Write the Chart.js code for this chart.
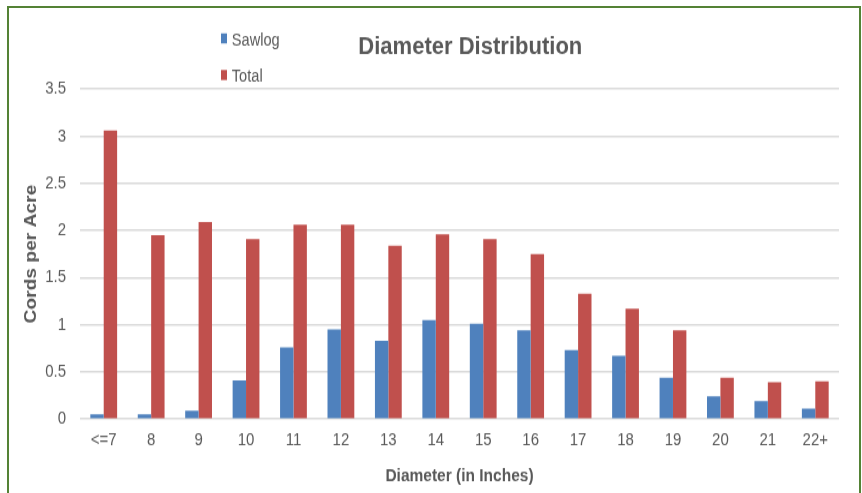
<!DOCTYPE html>
<html>
<head>
<meta charset="utf-8">
<script src="https://cdn.jsdelivr.net/npm/chart.js@4/dist/chart.umd.min.js"></script>
<style>
  html, body { margin: 0; padding: 0; background: #ffffff; overflow: hidden; }
  #page { position: relative; width: 862px; height: 493px; overflow: hidden; }
  /* the chart is laid out at 862x411 and drawn 1.2x taller, which gives the tall, narrow lettering */
  #wrap { position: absolute; left: 0; top: 0; width: 862px; height: 411px; transform: scaleY(1.2); transform-origin: 0 0; }
  #frame { position: absolute; left: 7px; top: 6px; width: 850px; height: 520px; border: 2px solid #548235; box-sizing: content-box; }
</style>
</head>
<body>
<div id="page">
  <div id="wrap"><canvas id="c" width="862" height="411"></canvas></div>
  <div id="frame"></div>
</div>
<script>
// Diameter classes and cords per acre for each product
const categories = ['<=7', '8', '9', '10', '11', '12', '13', '14', '15', '16', '17', '18', '19', '20', '21', '22+'];
const sawlog = [0.05, 0.05, 0.09, 0.41, 0.76, 0.95, 0.83, 1.05, 1.01, 0.94, 0.73, 0.67, 0.44, 0.24, 0.19, 0.11];
const total  = [3.06, 1.95, 2.09, 1.91, 2.06, 2.06, 1.84, 1.96, 1.91, 1.75, 1.33, 1.17, 0.94, 0.44, 0.39, 0.40];
const yTicks = [0, 0.5, 1, 1.5, 2, 2.5, 3, 3.5];

const chartTitle = 'Diameter Distribution';
const yTitle = 'Cords per Acre';
const xTitle = 'Diameter (in Inches)';

const FONT = "'Liberation Sans', Arial, sans-serif";
const TEXT = '#595959';
const BLUE = '#4f81bd';
const RED = '#c0504d';

// draw a line of text scaled to a given width and cap height
function fittedText(ctx, text, font, size, x, baseline, align, width, capHeight) {
  ctx.save();
  ctx.font = font;
  const w = ctx.measureText(text).width;
  const sx = width ? width / w : 1;
  const sy = capHeight / (0.716 * size);
  ctx.translate(x, baseline);
  ctx.scale(sx, sy);
  ctx.textAlign = align;
  ctx.textBaseline = 'alphabetic';
  ctx.fillText(text, 0, 0);
  ctx.restore();
}

// chart title and a stacked legend in the upper left
const decorations = {
  id: 'decorations',
  afterDraw(chart) {
    const ctx = chart.ctx;
    ctx.save();
    ctx.fillStyle = TEXT;
    fittedText(ctx, chartTitle, 'bold 22px ' + FONT, 22, 470.3, 45, 'center', 224, 14.4);

    const baselines = [38.3, 68.1];
    const boxes = [27.8, 58.3];
    chart.data.datasets.forEach((ds, i) => {
      ctx.fillStyle = ds.backgroundColor;
      ctx.fillRect(221, boxes[i], 6, 8.4);
      ctx.fillStyle = TEXT;
      fittedText(ctx, ds.label, '14.6px ' + FONT, 14.6, 231.8, baselines[i], 'left', 0, 11.1);
    });
    ctx.restore();
  }
};

new Chart(document.getElementById('c'), {
  type: 'bar',
  data: {
    labels: categories,
    datasets: [
      { label: 'Sawlog', data: sawlog, backgroundColor: BLUE },
      { label: 'Total', data: total, backgroundColor: RED }
    ]
  },
  options: {
    responsive: false,
    animation: false,
    devicePixelRatio: 1,
    layout: { padding: { left: 0, right: 23, top: 74.2, bottom: 0 } },
    datasets: { bar: { categoryPercentage: 0.565, barPercentage: 1.0 } },
    plugins: {
      legend: { display: false },
      title: { display: false },
      tooltip: { enabled: false }
    },
    scales: {
      x: {
        grid: { display: false, drawTicks: false },
        border: { display: false },
        ticks: { color: TEXT, font: { family: FONT, size: 15 }, padding: 8.5, maxRotation: 0 },
        title: { display: true, text: xTitle, color: TEXT, font: { family: FONT, size: 15.5, weight: 'bold' }, padding: { top: 0, bottom: 5 } },
        afterFit(scale) { scale.height = 61.8; }
      },
      y: {
        min: 0,
        max: 3.5,
        afterBuildTicks(scale) { scale.ticks = yTicks.map(v => ({ value: v })); },
        grid: { color: '#d9d9d9', lineWidth: 1.6, drawTicks: false },
        border: { display: false },
        ticks: { color: TEXT, font: { family: FONT, size: 15 }, padding: 14, callback: v => String(v) },
        title: { display: true, text: yTitle, color: TEXT, font: { family: FONT, size: 16, weight: 'bold' }, padding: { top: 22, bottom: 0 } },
        afterFit(scale) { scale.width = 80; }
      }
    }
  },
  plugins: [decorations]
});
</script>
</body>
</html>
